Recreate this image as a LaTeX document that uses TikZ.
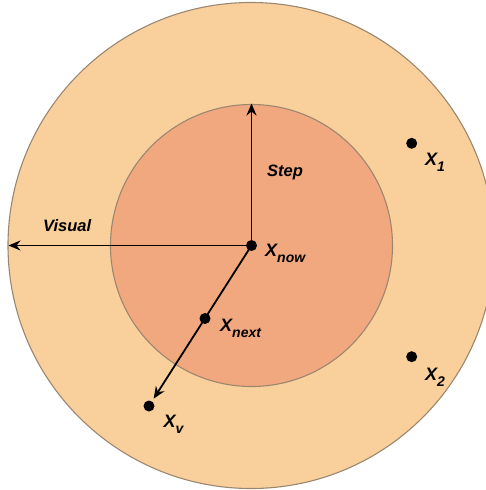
\documentclass[tikz,border=0pt]{standalone}
\usepackage{fontspec}
\setmainfont{Liberation Sans}
\usetikzlibrary{arrows.meta}
\definecolor{outerfill}{RGB}{249,208,155}
\definecolor{innerfill}{RGB}{242,168,126}
\definecolor{ringline}{RGB}{155,135,112}
\newcommand{\xlab}[1]{\fontsize{18}{18}\selectfont\bfseries\itshape X\raisebox{-6pt}{\fontsize{14}{14}\selectfont #1}}
\tikzset{
  ring/.style={draw=ringline, line width=1.1pt},
  dotmark/.style={circle, fill=black, inner sep=0pt, minimum size=11pt},
  arr/.style={line width=1.8pt, -{Stealth[length=12pt,width=10pt,inset=4pt]}},
  lab/.style={inner sep=0pt, font=\fontsize{16.5}{16.5}\selectfont\bfseries\itshape},
  xl/.style={inner sep=0pt, anchor=base west}
}
\begin{document}
\begin{tikzpicture}[x=1pt,y=-1pt]
\useasboundingbox (0,0) rectangle (486,490);
\begin{scope}
\clip (0,0) rectangle (486,490);
\draw[ring, fill=outerfill] (251,245.5) circle (243);
\end{scope}
\draw[ring, fill=innerfill] (251.5,245.5) circle (141);
\node[dotmark] (now) at (251.5,245.5) {};
\node[dotmark] (xv) at (149,406) {};
\node[dotmark] (xnext) at (205,318.5) {};
\node[dotmark] (x1) at (411.7,143.3) {};
\node[dotmark] (x2) at (411.7,356.7) {};
\coordinate (steptop) at (251.5,103.5);
\coordinate (visleft) at (8.5,245.5);
\draw[arr] (now.center) -- (steptop);
\draw[arr] (now.center) -- (visleft);
\draw[arr, shorten >=3pt] (now.center) -- (xv);
\node[lab, anchor=base] (steplab) at (285,176.7) {Step};
\node[lab, anchor=base] (vislab) at (67.2,231.7) {Visual};
\node[xl] (nowlab) at (265,256) {\xlab{now}};
\node[xl] (nextlab) at (220,331) {\xlab{next}};
\node[xl] (vlab) at (163.5,427.3) {\xlab{v}};
\node[xl] (onelab) at (425,165) {\xlab{1}};
\node[xl] (twolab) at (425,380.7) {\xlab{2}};
\end{tikzpicture}
\end{document}
